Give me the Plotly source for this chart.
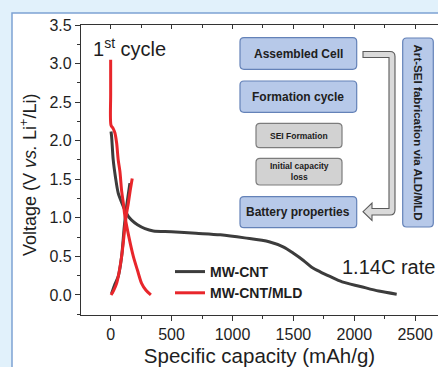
import plotly.graph_objects as go

# ---------------- data ----------------
cnt_dis_cap = [3, 8, 21, 40, 62, 90, 117, 145, 172, 220, 282, 350, 500, 700, 900, 1100, 1300, 1420, 1500, 1580, 1650, 1720, 1800, 1900, 2050, 2200, 2348]
cnt_dis_v = [2.12, 2.05, 1.75, 1.52, 1.32, 1.20, 1.10, 1.02, 0.97, 0.91, 0.86, 0.83, 0.82, 0.80, 0.78, 0.74, 0.69, 0.62, 0.54, 0.45, 0.36, 0.30, 0.24, 0.17, 0.11, 0.05, 0.01]
cnt_chg_cap = [8, 30, 62, 90, 112, 131, 158]
cnt_chg_v = [0.02, 0.12, 0.24, 0.50, 0.89, 1.15, 1.45]

mld_dis_cap = [0, 0, 3, 20, 35, 49, 62, 76, 90, 105, 117, 150, 186, 220, 254, 290, 330]
mld_dis_v = [3.05, 2.6, 2.2, 2.16, 2.1, 1.97, 1.75, 1.6, 1.35, 1.18, 1.02, 0.75, 0.50, 0.32, 0.15, 0.06, 0.0]
mld_chg_cap = [3, 25, 49, 70, 90, 105, 117, 131, 145, 160, 177]
mld_chg_v = [0.0, 0.06, 0.15, 0.30, 0.50, 0.70, 0.89, 1.06, 1.19, 1.35, 1.51]

series_names = ["MW-CNT", "MW-CNT/MLD"]
x_ticks = [0, 500, 1000, 1500, 2000, 2500]
y_ticks = [0.0, 0.5, 1.0, 1.5, 2.0, 2.5, 3.0, 3.5]

# ---------------- layout geometry ----------------
W_FIG, H_FIG = 438, 367
L, R, T, B = 81, 438, 25, 315
PW, PH = R - L, B - T

def px(xp):
    return (xp - L) / PW

def py(yp):
    return (B - yp) / PH

FONT = "Liberation Sans, Arial, sans-serif"
BLACK = "#3c3c3c"
RED = "#e8262b"

fig = go.Figure()
common = dict(mode="lines", line_shape="spline")
fig.add_trace(go.Scatter(x=cnt_dis_cap, y=cnt_dis_v, name=series_names[0], line=dict(color=BLACK, width=3, smoothing=0.8), legendgroup="a", **common))
fig.add_trace(go.Scatter(x=cnt_chg_cap, y=cnt_chg_v, name=series_names[0], line=dict(color=BLACK, width=3, smoothing=0.8), legendgroup="a", showlegend=False, **common))
fig.add_trace(go.Scatter(x=mld_dis_cap, y=mld_dis_v, name=series_names[1], line=dict(color=RED, width=3, smoothing=0.8), legendgroup="b", **common))
fig.add_trace(go.Scatter(x=mld_chg_cap, y=mld_chg_v, name=series_names[1], line=dict(color=RED, width=3, smoothing=0.8), legendgroup="b", showlegend=False, **common))
fig.add_trace(go.Scatter(x=[None], y=[None], xaxis="x2", showlegend=False, hoverinfo="skip"))

XR = [-243.5, 2687]
YR = [-0.26, 3.5]

axis_font = dict(family=FONT, size=16, color="#1e1e1e")

def rounded(x0, y0, x1, y1, r=4):
    s = f"M{px(x0 + r)},{py(y0)} L{px(x1 - r)},{py(y0)} Q{px(x1)},{py(y0)} {px(x1)},{py(y0 + r)} "
    s += f"L{px(x1)},{py(y1 - r)} Q{px(x1)},{py(y1)} {px(x1 - r)},{py(y1)} "
    s += f"L{px(x0 + r)},{py(y1)} Q{px(x0)},{py(y1)} {px(x0)},{py(y1 - r)} "
    s += f"L{px(x0)},{py(y0 + r)} Q{px(x0)},{py(y0)} {px(x0 + r)},{py(y0)} Z"
    return s

shapes = []
# white panel with blue border
shapes.append(dict(type="rect", xref="paper", yref="paper", x0=px(12), x1=px(460), y0=py(13), y1=py(390),
                   fillcolor="white", line=dict(color="#7ea2d4", width=1.5), layer="below"))

BLUE_FILL, BLUE_LINE = "#b7c9e9", "#6482b8"
GRAY_FILL, GRAY_LINE = "#d2d2d2", "#7c7c7c"
boxes = [
    (240, 37.7, 356.7, 69.3, BLUE_FILL, BLUE_LINE, "Assembled Cell", 12),
    (240, 81, 356.7, 112.3, BLUE_FILL, BLUE_LINE, "Formation cycle", 12),
    (256, 123.3, 342, 147.7, GRAY_FILL, GRAY_LINE, "SEI Formation", 8.5),
    (256, 158.3, 342, 185, GRAY_FILL, GRAY_LINE, "Initial capacity<br>loss", 8.5),
    (240, 196.7, 356.7, 227.7, BLUE_FILL, BLUE_LINE, "Battery properties", 12),
]
annotations = []
for (x0, y0, x1, y1, fc, lc, txt, fs) in boxes:
    shapes.append(dict(type="path", xref="paper", yref="paper", path=rounded(x0, y0, x1, y1),
                       fillcolor=fc, line=dict(color=lc, width=1.2), layer="above"))
    annotations.append(dict(xref="paper", yref="paper", x=px((x0 + x1) / 2), y=py((y0 + y1) / 2),
                            text=txt, showarrow=False, xanchor="center", yanchor="middle",
                            font=dict(family=FONT, size=fs, color="#202020", weight="bold")))

# vertical box
shapes.append(dict(type="path", xref="paper", yref="paper", path=rounded(402.7, 38, 433.3, 227),
                   fillcolor=BLUE_FILL, line=dict(color=BLUE_LINE, width=1.2), layer="above"))
annotations.append(dict(xref="paper", yref="paper", x=px(418), y=py(132.5), text="Art-SEI fabrication via ALD/MLD",
                        textangle=90, showarrow=False, xanchor="center", yanchor="middle",
                        font=dict(family=FONT, size=11.6, color="#202020", weight="bold")))

# bent hollow arrow
apts = [(363, 51.5), (390, 51.5), ("Q", 395, 51.5, 395, 56.5), (395, 210), ("Q", 395, 215, 390, 215),
        (372, 215), (372, 220.5), (363, 211.7), (372, 203), (372, 208.5), (389, 208.5), (389, 57.5), (363, 57.5)]
path = ""
for i, p in enumerate(apts):
    if p[0] == "Q":
        path += f"Q{px(p[1])},{py(p[2])} {px(p[3])},{py(p[4])} "
    else:
        path += ("M" if i == 0 else "L") + f"{px(p[0])},{py(p[1])} "
path += "Z"
shapes.append(dict(type="path", xref="paper", yref="paper", path=path, fillcolor="#dadada",
                   line=dict(color="#5a5a5a", width=1.1), layer="above"))

# texts
annotations.append(dict(xref="paper", yref="paper", x=px(91), y=py(47), text="1<sup>st</sup> cycle",
                        showarrow=False, xanchor="left", yanchor="middle",
                        font=dict(family=FONT, size=20, color="#1e1e1e")))
annotations.append(dict(xref="paper", yref="paper", x=px(340), y=py(267), text="1.14C rate",
                        showarrow=False, xanchor="left", yanchor="middle",
                        font=dict(family=FONT, size=20, color="#1e1e1e")))
annotations.append(dict(xref="paper", yref="paper", x=px(29), y=py(175),
                        text="Voltage (V <i>vs.</i> Li<sup>+</sup>/Li)", textangle=-90,
                        showarrow=False, xanchor="center", yanchor="middle",
                        font=dict(family=FONT, size=18, color="#1e1e1e")))

fig.update_layout(
    width=W_FIG, height=H_FIG, autosize=False,
    margin=dict(l=L, r=W_FIG - R, t=T, b=H_FIG - B, pad=0),
    paper_bgcolor="#e1f1fb", plot_bgcolor="rgba(0,0,0,0)",
    shapes=shapes, annotations=annotations,
    showlegend=True,
    legend=dict(x=px(170), y=py(256), xanchor="left", yanchor="top", bgcolor="rgba(0,0,0,0)",
                borderwidth=0, itemwidth=30, tracegroupgap=0,
                font=dict(family=FONT, size=14, color="#1e1e1e", weight="bold")),
    xaxis=dict(range=XR, tickmode="array", tickvals=x_ticks, ticktext=[str(v) for v in x_ticks],
               ticks="outside", ticklen=5, tickwidth=1.2, tickcolor="#333",
               minor=dict(dtick=250, tick0=0, ticks="outside", ticklen=3, tickwidth=1, tickcolor="#333"),
               showline=True, linecolor="#333", linewidth=1.3, showgrid=False, zeroline=False,
               tickfont=axis_font,
               title=dict(text="Specific capacity (mAh/g)", font=dict(family=FONT, size=20.5, color="#1e1e1e"), standoff=8)),
    xaxis2=dict(range=XR, overlaying="x", side="top", anchor="y", tickmode="array", tickvals=x_ticks,
                showticklabels=False, ticks="inside", ticklen=4, tickwidth=1.2, tickcolor="#333",
                minor=dict(dtick=250, tick0=0, ticks="inside", ticklen=3, tickwidth=1, tickcolor="#333"),
                showline=True, linecolor="#333", linewidth=1.3, showgrid=False, zeroline=False),
    yaxis=dict(range=YR, tickmode="array", tickvals=y_ticks, ticktext=[f"{v:.1f}" for v in y_ticks],
               ticks="outside", ticklen=5, tickwidth=1.2, tickcolor="#333",
               minor=dict(dtick=0.25, tick0=0, ticks="outside", ticklen=3, tickwidth=1, tickcolor="#333"),
               showline=True, linecolor="#333", linewidth=1.3, showgrid=False, zeroline=False,
               tickfont=axis_font),
)

fig.write_html("out.html")
